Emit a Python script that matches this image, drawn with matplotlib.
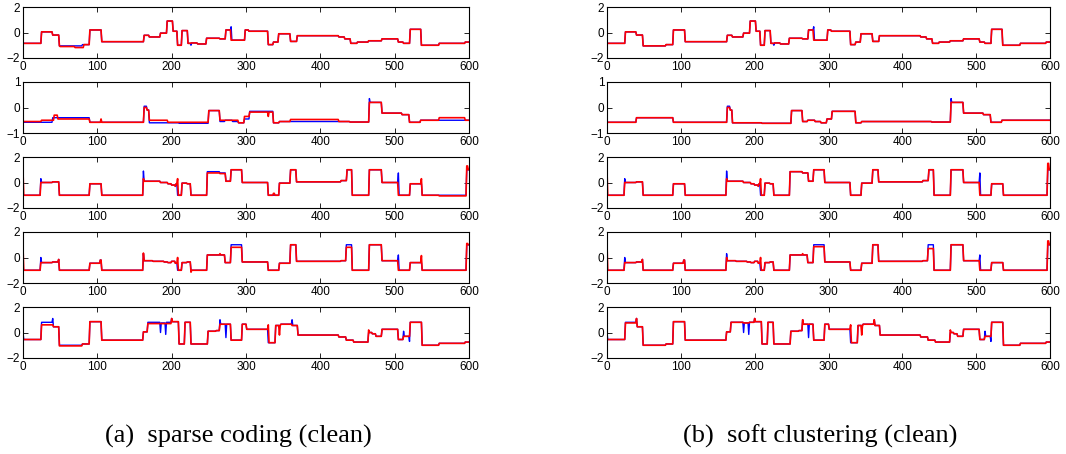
"""
Ten reconstruction panels: blue = reference signal, red = reconstruction.
Left column sparse coding, right column soft clustering.
"""
import matplotlib
matplotlib.use('Agg')
import matplotlib.pyplot as plt
import numpy as np

# Reference (blue) signals as steps: (start x, level); same in both columns
blue_1 = [(0, -0.85), (25, 0.05), (40, -0.2), (49, -1.05), (80, -0.95), (90, 0.2), (106, -0.72),
          (163, -0.22), (170, -0.35), (185, -0.05), (194, 0.9), (202, 0.1), (208, -1.0), (214, 0.15),
          (222, -0.85), (226, -1.0), (227, -0.82), (235, -0.9), (247, -0.45), (265, -0.5), (273, 0.2),
          (280, 0.45), (281, -0.6), (299, 0.2), (304, 0.1), (330, -0.95), (337, -0.75), (344, -0.1),
          (360, -0.7), (369, -0.25), (425, -0.35), (433, -0.5), (441, -0.85), (450, -0.75),
          (465, -0.65), (483, -0.5), (505, -0.75), (512, -0.85), (521, 0.25), (536, -1.0),
          (560, -0.85), (595, -0.75)]
blue_2 = [(0, -0.58), (40, -0.4), (90, -0.58), (163, 0.05), (167, -0.1), (170, -0.6), (210, -0.62),
          (250, -0.12), (265, -0.55), (272, -0.5), (282, -0.55), (290, -0.6), (298, -0.45),
          (305, -0.15), (337, -0.6), (345, -0.55), (440, -0.57), (466, 0.35), (467, 0.2),
          (483, -0.22), (510, -0.28), (520, -0.58), (535, -0.5)]
blue_3 = [(0, -1.0), (24, 0.3), (25, 0.0), (40, 0.05), (49, -1.0), (90, -0.1), (106, -1.0), (162, 0.9),
          (163, 0.1), (185, 0.0), (195, -0.1), (200, -0.2), (205, -0.3), (206, -0.1), (208, -1.0),
          (214, -0.05), (221, -0.1), (226, -1.0), (248, 0.85), (265, 0.75), (273, 0.1), (280, 1.0),
          (295, 0.0), (330, -1.0), (345, -0.05), (360, 1.0), (368, 0.05), (428, 0.15), (436, 1.0),
          (443, -1.0), (466, 1.0), (483, 0.0), (505, 0.75), (506, -1.0), (521, -0.1), (537, -1.0),
          (597, 1.0)]
blue_4 = [(0, -1.0), (24, 0.0), (25, -0.4), (40, -0.35), (48, -0.15), (49, -1.0), (90, -0.45),
          (104, -0.2), (106, -1.0), (162, 0.3), (163, -0.25), (175, -0.3), (190, -0.35), (195, -0.4),
          (200, -0.3), (205, -0.45), (208, -1.0), (214, -0.4), (221, -0.35), (226, -1.0), (248, 0.2),
          (272, -0.4), (280, 1.0), (295, -0.35), (330, -1.0), (345, -0.45), (360, 1.0), (368, -0.3),
          (428, -0.25), (435, 1.0), (443, -1.0), (466, 1.0), (483, -0.25), (505, 0.2), (506, -1.0),
          (521, -0.4), (537, -1.0), (597, 1.0)]
blue_5 = [(0, 0.0), (1, -0.55), (25, 0.8), (40, 1.1), (41, 0.45), (49, -1.0), (80, -0.9), (90, 0.85),
          (106, -0.6), (162, 0.05), (168, 0.8), (185, 0.0), (186, 0.75), (192, -0.15), (193, 0.8),
          (200, 1.1), (201, 0.85), (210, -0.9), (218, 0.8), (226, -0.9), (249, 0.1), (260, 0.15),
          (265, 1.0), (266, 0.65), (273, -0.4), (274, 0.65), (280, -0.6), (295, 0.65), (301, 0.25),
          (330, -0.8), (340, 0.55), (347, 0.65), (362, 1.0), (363, 0.55), (370, -0.2), (425, -0.35),
          (435, -0.6), (445, -0.75), (465, 0.0), (470, -0.1), (475, -0.3), (483, 0.25), (505, -0.55),
          (512, 0.1), (513, -0.3), (520, -0.7), (521, 0.8), (537, -1.0), (560, -0.85), (595, -0.75)]

# Reconstructions (red): segments (x0, x1, level) where red departs from blue
red_sparse_1 = [(50, 70, -1.1), (70, 82, -1.18), (226, 227, -0.82), (280, 281, -0.6)]
red_sparse_2 = [(0, 25, -0.55), (25, 42, -0.5), (42, 47, -0.3), (47, 90, -0.45), (105, 106, -0.45),
                (163, 167, 0.0), (170, 195, -0.5), (195, 250, -0.58), (265, 290, -0.5),
                (290, 298, -0.6), (298, 305, -0.35), (305, 337, -0.18), (330, 331, -0.35),
                (360, 425, -0.47), (466, 467, 0.2), (560, 595, -0.4)]
red_sparse_3 = [(0, 1, 0.9), (24, 25, 0.0), (162, 163, 0.3), (208, 209, 0.3), (248, 265, 0.75),
                (265, 273, 0.7), (337, 339, -0.85), (505, 506, -1.0), (536, 537, 0.3),
                (560, 597, -1.05), (597, 599, 1.3)]
red_sparse_4 = [(0, 1, 0.8), (24, 25, -0.4), (162, 163, 0.35), (208, 209, 0.0), (226, 227, -1.15),
                (265, 266, 0.3), (280, 295, 0.8), (435, 443, 0.8), (505, 506, -1.0), (536, 537, 0.15),
                (597, 599, 1.1)]
red_sparse_5 = [(0, 1, -0.55), (25, 41, 0.6), (49, 80, -1.05), (168, 200, 0.7), (265, 266, 0.65),
                (273, 274, 0.65), (330, 331, 0.6), (345, 346, -0.2), (362, 363, 0.55),
                (465, 466, 0.2), (512, 513, -0.3), (520, 521, -0.3)]

red_soft_1 = [(226, 227, -0.85), (280, 281, -0.6)]
red_soft_2 = [(163, 167, 0.0), (466, 467, 0.2)]
red_soft_3 = [(0, 1, 0.9), (24, 25, 0.0), (162, 163, 0.3), (208, 209, 0.3), (505, 506, -1.0),
              (597, 599, 1.5)]
red_soft_4 = [(0, 1, 1.0), (24, 25, -0.4), (162, 163, 0.0), (208, 209, 0.0), (265, 266, 0.3),
              (280, 295, 0.85), (435, 443, 0.7), (505, 506, -1.0), (597, 599, 1.3)]
red_soft_5 = [(0, 1, -0.55), (25, 40, 0.75), (185, 186, 0.75), (192, 193, 0.75), (273, 274, 0.65),
              (330, 331, 0.6), (345, 346, -0.2), (465, 466, 0.2), (512, 513, -0.3), (520, 521, -0.3)]

blue_rows = [blue_1, blue_2, blue_3, blue_4, blue_5]
red_cols = [[red_sparse_1, red_sparse_2, red_sparse_3, red_sparse_4, red_sparse_5],
            [red_soft_1, red_soft_2, red_soft_3, red_soft_4, red_soft_5]]
ylims = [(-2, 2), (-1, 1), (-2, 2), (-2, 2), (-2, 2)]
captions = ['(a)  sparse coding (clean)', '(b)  soft clustering (clean)']

n = 601
t = np.arange(n)


def expand(steps):
    y = np.empty(n)
    for i, (x0, v) in enumerate(steps):
        x1 = steps[i + 1][0] if i + 1 < len(steps) else n
        y[x0:x1] = v
    return y


plt.rcParams['font.family'] = ['Liberation Sans', 'DejaVu Sans']
fig = plt.figure(figsize=(10.66, 4.54), dpi=100)
W, H = 1066.0, 454.0

col_left = [23, 607]
col_width = [446, 443]
row_tops = [7, 82, 157, 232, 307]
row_h = 51

for c in range(2):
    for r in range(5):
        ax = fig.add_axes([col_left[c] / W, 1 - (row_tops[r] + row_h) / H,
                           col_width[c] / W, row_h / H])
        yb = expand(blue_rows[r])
        yr = yb.copy()
        for x0, x1, v in red_cols[c][r]:
            yr[x0:x1] = v
        ax.plot(t, yb, color='#0000ff', linewidth=1.0)
        ax.plot(t, yr, color='#ff0000', linewidth=1.2)
        lo, hi = ylims[r]
        ax.set_xlim(0, 600)
        ax.set_ylim(lo, hi)
        ax.set_xticks(range(0, 601, 100))
        ax.set_yticks([lo, 0, hi])
        ax.tick_params(direction='in', top=True, right=True, length=3.5,
                       width=0.6, labelsize=8.5, pad=2)
        for s in ax.spines.values():
            s.set_linewidth(0.8)
    fig.text((col_left[c] + col_width[c] / 2 - 8) / W, 0.038, captions[c],
             ha='center', va='center', fontsize=19, family=['Liberation Serif'])

fig.savefig('out.png', dpi=100)
